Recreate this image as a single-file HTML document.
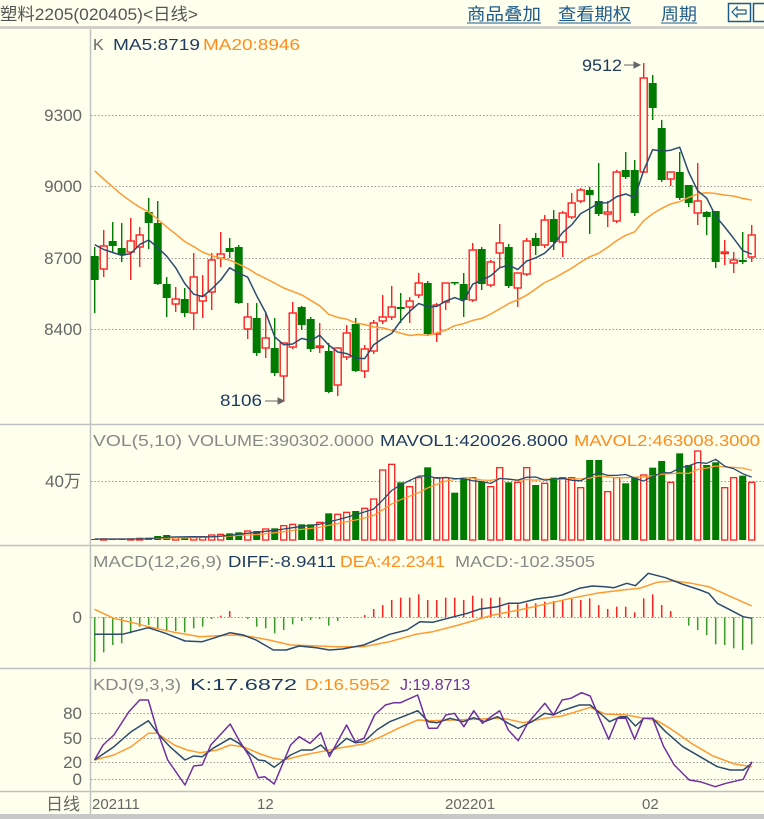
<!DOCTYPE html>
<html><head><meta charset="utf-8">
<style>
html,body{margin:0;padding:0;background:#ffffee;}
svg{display:block;}
text{font-family:"Liberation Sans","Noto Sans CJK SC",sans-serif;}
</style></head>
<body>
<svg id="c" width="764" height="819" xmlns="http://www.w3.org/2000/svg">
<rect x="0" y="0" width="764" height="819" fill="#ffffee"/>
<text x="0" y="20" font-size="17" fill="#555" textLength="198" lengthAdjust="spacingAndGlyphs">塑料2205(020405)&lt;日线&gt;</text>
<text x="467" y="20" font-size="17" fill="#1d5a8a" textLength="74" lengthAdjust="spacingAndGlyphs">商品叠加</text>
<line x1="467" y1="23" x2="541" y2="23" stroke="#1d5a8a" stroke-width="1"/>
<text x="558" y="20" font-size="17" fill="#1d5a8a" textLength="73" lengthAdjust="spacingAndGlyphs">查看期权</text>
<line x1="558" y1="23" x2="631" y2="23" stroke="#1d5a8a" stroke-width="1"/>
<text x="661" y="20" font-size="17" fill="#1d5a8a" textLength="36" lengthAdjust="spacingAndGlyphs">周期</text>
<line x1="661" y1="23" x2="697" y2="23" stroke="#1d5a8a" stroke-width="1"/>
<rect x="728.5" y="3.5" width="22" height="18" fill="none" stroke="#1d5a8a" stroke-width="1.5"/>
<path d="M732 12 L737 7 L737 10 L746 10 L746 14 L737 14 L737 17 Z" fill="none" stroke="#1d5a8a" stroke-width="1.2"/>
<rect x="753.5" y="3.5" width="12" height="18" fill="none" stroke="#1d5a8a" stroke-width="1.5"/>
<rect x="0" y="26" width="764" height="3" fill="#d0d0c8"/>
<line x1="90.5" y1="29" x2="90.5" y2="814" stroke="#c0c0c0" stroke-width="1.5"/>
<line x1="0" y1="424.5" x2="764" y2="424.5" stroke="#c0c0c0" stroke-width="1.5"/>
<line x1="0" y1="545.5" x2="764" y2="545.5" stroke="#c0c0c0" stroke-width="1.5"/>
<line x1="0" y1="668.5" x2="764" y2="668.5" stroke="#c0c0c0" stroke-width="1.5"/>
<line x1="0" y1="791.5" x2="764" y2="791.5" stroke="#c0c0c0" stroke-width="1.5"/>
<rect x="0" y="814" width="764" height="5" fill="#c8c8c8"/>
<g id="grid" stroke="#999" stroke-width="1" stroke-dasharray="1.5,2"></g>
<g font-size="17" fill="#666" text-anchor="end">
<text x="82" y="121">9300</text>
<text x="82" y="192">9000</text>
<text x="82" y="264">8700</text>
<text x="82" y="335">8400</text>
<text x="81" y="487">40万</text>
<text x="82" y="623">0</text>
<text x="82" y="719">80</text>
<text x="82" y="744">50</text>
<text x="82" y="768">20</text>
<text x="82" y="785">0</text>
<text x="80" y="810">日线</text>
</g>
<g font-size="15" fill="#666">
<text x="92" y="809">202111</text>
<text x="257" y="809">12</text>
<text x="445" y="809">202201</text>
<text x="642" y="809">02</text>
</g>
<g font-size="16">
<text x="93" y="50" fill="#666">K</text>
<text x="113" y="50" fill="#1f3a5f" textLength="87" lengthAdjust="spacingAndGlyphs">MA5:8719</text>
<text x="203" y="50" fill="#ff8c1a" textLength="97" lengthAdjust="spacingAndGlyphs">MA20:8946</text>
<text x="93" y="446" fill="#888" textLength="89" lengthAdjust="spacingAndGlyphs">VOL(5,10)</text>
<text x="188" y="446" fill="#888" textLength="186" lengthAdjust="spacingAndGlyphs">VOLUME:390302.0000</text>
<text x="380" y="446" fill="#1f3a5f" textLength="188" lengthAdjust="spacingAndGlyphs">MAVOL1:420026.8000</text>
<text x="574" y="446" fill="#ff8c1a" textLength="186" lengthAdjust="spacingAndGlyphs">MAVOL2:463008.3000</text>
<text x="93" y="567" fill="#888" textLength="129" lengthAdjust="spacingAndGlyphs">MACD(12,26,9)</text>
<text x="228" y="567" fill="#1f3a5f" textLength="108" lengthAdjust="spacingAndGlyphs">DIFF:-8.9411</text>
<text x="340" y="567" fill="#ff8c1a" textLength="105" lengthAdjust="spacingAndGlyphs">DEA:42.2341</text>
<text x="455" y="567" fill="#888" textLength="140" lengthAdjust="spacingAndGlyphs">MACD:-102.3505</text>
<text x="93" y="690" fill="#888" textLength="88" lengthAdjust="spacingAndGlyphs">KDJ(9,3,3)</text>
<text x="190" y="690" fill="#1f3a5f" textLength="107" lengthAdjust="spacingAndGlyphs">K:17.6872</text>
<text x="305" y="690" fill="#ff8c1a" textLength="85" lengthAdjust="spacingAndGlyphs">D:16.5952</text>
<text x="400" y="690" fill="#7030a0">J:19.8713</text>
</g>
<g font-size="17" fill="#1f3a5f">
<text x="582" y="71" textLength="40" lengthAdjust="spacingAndGlyphs">9512</text>
<text x="220" y="406" textLength="42" lengthAdjust="spacingAndGlyphs">8106</text>
</g>
<g stroke="#666" stroke-width="1" fill="#666">
<line x1="624" y1="65" x2="638" y2="65"/><path d="M640 65 L634 62 L634 68 Z"/>
<line x1="265" y1="401" x2="281" y2="401"/><path d="M284 401 L278 398 L278 404 Z"/>
</g>
<g id="plot"></g>
</svg>
<script>
var NS="http://www.w3.org/2000/svg";
function el(p,n,a){var e=document.createElementNS(NS,n);for(var k in a)e.setAttribute(k,a[k]);p.appendChild(e);return e;}
var grid=document.getElementById('grid'),plot=document.getElementById('plot');
[115,186,258,329,481,617,713,738,762,779].forEach(function(y){el(grid,'line',{x1:91,y1:y+.5,x2:764,y2:y+.5});});
var C=[
[256,280,247,313,0],[246,269,230,277,1],[241,246,222,252,0],[248,255,223,262,0],[241,252,218,280,1],[235,247,227,267,1],[212,223,198,249,0],[223,284,201,285,0],[284,298,277,317,0],[299,304,287,312,1],
[299,313,288,317,0],[277,313,253,330,1],[296,301,275,318,1],[260,292,253,310,1],[254,258,232,267,1],[248,252,238,258,0],[247,303,245,304,0],[317,329,303,339,1],[318,353,303,356,0],[338,348,313,358,1],
[348,373,318,376,0],[343,376,343,401,1],[313,347,302,349,1],[307,325,306,330,0],[319,349,317,352,0],[346,347,323,353,1],[351,392,343,393,0],[348,385,347,396,1],[333,357,325,360,1],[324,371,318,372,0],
[349,371,345,378,1],[323,351,320,354,1],[317,321,295,324,1],[307,317,286,320,1],[307,309,293,323,0],[301,307,297,323,1],[283,295,273,298,1],[283,334,281,335,0],[305,334,303,342,1],[283,302,283,310,1],
[282,283,282,285,0],[284,300,273,317,0],[250,300,243,302,1],[249,284,247,290,0],[262,285,260,287,1],[243,253,224,267,1],[247,286,244,288,0],[273,288,273,307,1],[241,274,238,276,1],[238,246,233,255,0],
[220,245,215,248,1],[219,242,210,250,0],[213,242,211,257,1],[203,217,193,219,1],[190,201,188,203,1],[190,195,187,234,0],[201,214,163,216,0],[212,214,201,227,1],[172,221,170,223,1],[170,177,152,179,0],
[170,213,160,216,0],[78,172,63,173,1],[83,108,75,120,0],[128,180,120,182,0],[172,179,172,186,1],[172,198,152,200,0],[185,203,185,207,0],[201,213,163,225,1],[212,217,211,235,0],[211,262,211,268,0],
[252,253,240,265,1],[260,263,252,273,1],[260,262,232,264,0],[235,257,225,262,1]];
var N=C.length;function X(i){return 94.7+i*9.0;}
var RED="#ff2020",GRN="#007a00";
var closes=C.map(function(c){return c[4]?c[0]:c[1];});
var pad=[];for(var i=0;i<19;i++)pad.push(80+170*i/18);
var all=pad.concat(closes);
var ma20=[],ma5=[];
for(var i=0;i<N;i++){var s=0;for(var j=0;j<20;j++)s+=all[i+19-j];ma20.push(s/20);
 var s5=0;for(var j=0;j<5;j++){s5+=all[i+19-j];}ma5.push(s5/5);}
C.forEach(function(c,i){var x=X(i),col=c[4]?RED:GRN;
 el(plot,'line',{x1:x,y1:c[2],x2:x,y2:c[3],stroke:col,'stroke-width':1.4});
 var h=Math.max(c[1]-c[0],1.5);
 if(c[4])el(plot,'rect',{x:x-3.5,y:c[0],width:7,height:h,fill:'#ffffee',stroke:col,'stroke-width':1.4});
 else el(plot,'rect',{x:x-4,y:c[0],width:8,height:h,fill:col});
});
function poly(pts,col,w){el(plot,'polyline',{points:pts.map(function(p){return p[0].toFixed(1)+','+p[1].toFixed(1);}).join(' '),fill:'none',stroke:col,'stroke-width':w||1.4,'stroke-linejoin':'round'});}
poly(ma20.map(function(v,i){return[X(i),v];}),'#ff9a30',1.5);
poly(ma5.map(function(v,i){return[X(i),v];}),'#2c4a6e',1.5);
var VZ=[342,342,342,342,342,340,338,333,330,338,338,336,335,330,328,325,322,318,318,312,310,302,298,298,298,292,265,268,262,258,250,222,135,118,172,185,158,127,158,158,203,160,158,170,185,128,172,172,128,180,175,158,158,158,188,105,105,200,158,175,158,150,128,108,172,85,120,78,120,112,188,158,152,172];
var vtop=[];
VZ.forEach(function(z,i){var y=425+z/3,x=X(i),red=C[i][4],h=540-y;vtop.push(y);
 if(red)el(plot,'rect',{x:x-3,y:y,width:6,height:h,fill:'#ffffee',stroke:RED,'stroke-width':1.3});
 else el(plot,'rect',{x:x-3.5,y:y,width:7,height:h,fill:GRN});});
function mav(n){var r=[];for(var i=0;i<N;i++){var s=0,k=0;for(var j=0;j<n&&i-j>=0;j++){s+=540-vtop[i-j];k++;}r.push([X(i),540-s/k]);}return r;}
poly(mav(10),'#ff9a30',1.3);poly(mav(5),'#2c4a6e',1.3);
var MZ=[350,322,300,295,265,245,240,250,255,258,262,250,245,222,212,198,218,222,245,250,265,255,238,228,225,222,242,228,218,218,210,192,180,165,158,158,148,165,165,158,158,165,152,160,158,157,178,178,175,175,170,168,165,162,165,160,180,192,185,185,202,160,148,180,198,217,242,255,270,298,300,310,315,298];
var z0=617.3;
MZ.forEach(function(z,i){var y=545+z/3;el(plot,'line',{x1:X(i),y1:z0,x2:X(i),y2:y,stroke:y<z0?RED:'#3a9a2a','stroke-width':1.5});});
function conv(a,ox,oy,sx,sy){return a.map(function(p){return[ox+p[0]/sx,oy+p[1]/sy];});}
var DIFF=[[15,268],[80,268],[140,248],[180,265],[225,288],[265,290],[290,280],[330,263],[360,270],[390,285],[430,315],[460,315],[490,303],[530,308],[560,315],[590,312],[640,300],[700,268],[740,255],[770,230],[800,232],[840,218],[880,205],[910,192],[950,185],[975,175],[1000,175],[1040,162],[1080,155],[1100,150],[1140,130],[1170,123],[1200,125],[1220,128],[1250,115],[1270,122],[1300,85],[1340,98],[1380,118],[1420,135],[1440,145],[1460,175],[1480,188],[1520,215],[1540,220]];
var DEA=[[15,193],[60,220],[100,232],[140,245],[200,262],[260,275],[300,272],[340,270],[380,275],[420,285],[470,300],[520,302],[580,305],[640,305],[700,290],[760,268],[800,260],[860,240],[900,225],[940,210],[1000,195],[1060,178],[1120,160],[1180,145],[1240,135],[1280,130],[1320,112],[1360,108],[1400,115],[1440,125],[1500,160],[1540,183]];
poly(conv(DEA,88,545,2.32,3),'#ff9a30',1.5);
poly(conv(DIFF,88,545,2.32,3),'#2c4a6e',1.5);
var J=[[15,210],[35,165],[60,135],[95,65],[120,30],[140,30],[160,120],[185,210],[225,285],[245,228],[265,225],[285,165],[330,102],[350,150],[375,200],[395,263],[410,260],[432,282],[470,165],[490,140],[515,160],[540,128],[560,200],[600,105],[620,155],[640,145],[665,75],[690,45],[710,38],[725,38],[765,15],[790,115],[810,115],[830,75],[850,70],[872,110],[895,62],[915,100],[935,80],[955,62],[975,120],[998,152],[1020,100],[1060,40],[1080,75],[1100,30],[1120,25],[1145,8],[1165,18],[1185,80],[1208,148],[1228,85],[1248,85],[1268,148],[1288,85],[1310,85],[1335,168],[1360,225],[1395,270],[1420,275],[1455,290],[1480,280],[1520,268],[1540,215]];
var K=[[15,210],[60,170],[100,125],[140,92],[165,135],[190,170],[225,210],[245,198],[265,200],[290,175],[330,145],[350,160],[375,190],[395,210],[410,212],[432,232],[470,195],[495,180],[520,180],[540,165],[560,190],[600,145],[620,158],[640,155],[670,120],[700,95],[730,80],[765,62],[790,95],[810,98],[840,85],[870,95],[895,83],[920,95],[950,80],[975,100],[998,115],[1030,95],[1060,70],[1080,75],[1100,62],[1140,45],[1165,45],[1190,72],[1210,95],[1235,80],[1250,80],[1270,108],[1290,85],[1310,85],[1340,125],[1380,170],[1420,200],[1460,230],[1490,240],[1520,240],[1540,220]];
var D=[[15,210],[60,195],[100,170],[140,130],[160,130],[200,165],[230,180],[260,188],[300,180],[330,165],[360,170],[400,192],[430,205],[455,210],[500,195],[540,185],[580,175],[640,162],[680,140],[720,115],[765,90],[800,92],[850,90],[900,88],[950,85],[975,88],[1010,98],[1060,85],[1100,78],[1140,62],[1165,52],[1200,72],[1250,75],[1290,85],[1320,92],[1350,115],[1400,160],[1450,198],[1500,222],[1540,230]];
poly(conv(D,88,690,2.32,3),'#ff9a30',1.5);
poly(conv(K,88,690,2.32,3),'#2c4a6e',1.5);
poly(conv(J,88,690,2.32,3),'#7030a0',1.5);
</script>
</body></html>
